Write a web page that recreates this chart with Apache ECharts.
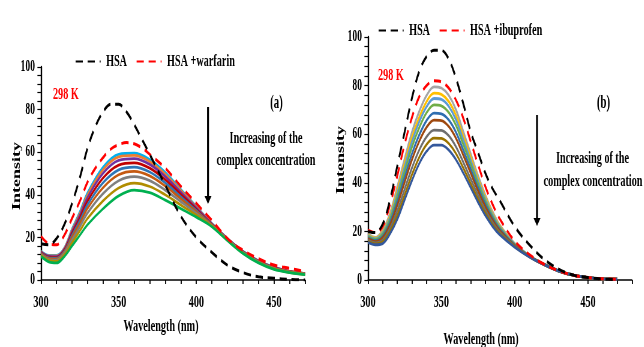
<!DOCTYPE html>
<html>
<head>
<meta charset="utf-8">
<script src="https://cdn.jsdelivr.net/npm/echarts@6/dist/echarts.min.js"></script>
<style>
  html, body { margin: 0; padding: 0; background: #fff; width: 644px; height: 347px; overflow: hidden; }
  /* the figure is drawn wide, then condensed horizontally */
  #chart { width: 1074px; height: 347px; transform: scaleX(0.6); transform-origin: 0 0; }
</style>
</head>
<body>
<div id="chart"></div>
<script>
// ---------- panel (a): HSA + warfarin ----------
const wlA = [300, 305, 310, 315, 320, 325, 330, 340, 350, 360, 370, 380, 390, 400, 410, 420, 430, 440, 450, 460, 470];
const wlAdash = [300, 305, 310, 315, 320, 325, 330, 335, 340, 345, 350, 355, 360, 365, 370, 380, 390, 400, 410, 420, 430, 440, 450, 460, 470];
const hsaA = [17, 16.5, 19.5, 26, 36, 48, 62, 72, 79, 82.5, 82.5, 79, 73, 66, 59, 44.5, 30, 20, 13, 7, 3.5, 1.5, 0.8, 0.3, 0];
const warfarinA = [20.5, 17, 16.5, 21, 29, 37, 46, 52.5, 57.5, 61.5, 63.5, 64.5, 64, 62, 59, 52.5, 44, 36, 28, 19.5, 14, 10, 7, 5.5, 4];
const complexA1 = [13.5, 11.5, 11.5, 15, 24, 32, 41, 53, 59, 59.5, 56.5, 50.5, 42.5, 34.5, 26.5, 19.5, 13.5, 9, 6, 4, 3];
const complexA2 = [13.4, 11.3, 11.3, 14.8, 23.5, 31.3, 40.1, 51.8, 57.8, 58.5, 55.6, 49.7, 42, 34.2, 26.4, 19.4, 13.4, 8.9, 5.9, 4, 3];
const complexA3 = [13.1, 11.1, 11, 14.4, 22.8, 30.4, 38.8, 50.2, 56.2, 57, 54.3, 48.6, 41.2, 33.8, 26.3, 19.4, 13.4, 8.9, 5.9, 3.9, 2.9];
const complexA4 = [12.9, 10.7, 10.6, 14, 21.9, 29.1, 37.1, 47.9, 53.9, 55, 52.5, 47.1, 40.2, 33.2, 26.1, 19.2, 13.2, 8.7, 5.7, 3.9, 2.9];
const complexA5 = [12.6, 10.4, 10.2, 13.5, 21, 27.9, 35.4, 45.7, 51.7, 53, 50.7, 45.6, 39.1, 32.6, 25.9, 19.1, 13.1, 8.6, 5.6, 3.8, 2.8];
const complexA6 = [12.3, 10, 9.8, 13, 20.1, 26.6, 33.7, 43.4, 49.4, 51, 48.9, 44.1, 38.1, 32, 25.8, 19, 13, 8.5, 5.5, 3.8, 2.8];
const complexA7 = [11.9, 9.6, 9.3, 12.5, 18.9, 25, 31.5, 40.6, 46.6, 48.5, 46.7, 42.2, 36.8, 31.3, 25.5, 18.9, 12.9, 8.4, 5.4, 3.7, 2.7];
const complexA8 = [11.5, 9.1, 8.7, 11.8, 17.5, 23.1, 28.9, 37.2, 43.2, 45.5, 43.9, 40, 35.2, 30.5, 25.3, 18.7, 12.7, 8.2, 5.2, 3.6, 2.6];
const complexA9 = [11, 8.5, 8, 11, 16, 21, 26, 33.5, 39.5, 42.2, 41, 37.5, 33.5, 29.5, 25, 18.5, 12.5, 8, 5, 3.5, 2.5];

// ---------- panel (b): HSA + ibuprofen ----------
const wlB = [300, 305, 310, 315, 320, 325, 330, 335, 340, 345, 350, 355, 360, 365, 370, 375, 380, 385, 390, 400, 410, 420, 430, 440, 450, 460, 470];
const hsaB = [20, 19.5, 23, 33, 47, 61, 75, 86, 92, 94.5, 94.5, 91, 83, 72.5, 61, 52.5, 44, 37.5, 32.5, 22, 14.5, 8.5, 4.5, 2, 1, 0.4, 0.2];
const ibuprofenB = [20.5, 19.5, 22, 31, 43, 56, 67, 75.5, 80, 82, 81.5, 79, 74, 66.5, 57, 47.5, 38.5, 31, 25, 16, 10.5, 6.5, 3.8, 2, 1, 0.5, 0.3];
const complexB1 = [19, 17.5, 20.5, 27.5, 38.5, 50, 61, 69.5, 76, 79.5, 79, 76, 70, 61, 52, 43, 35, 28, 22.5, 15, 10, 6.5, 3.8, 2, 1, 0.5, 0.3];
const complexB2 = [18.6, 17.2, 19.9, 26.6, 37, 48.1, 58.8, 67.1, 73.5, 76.9, 76.4, 73.5, 67.7, 59.1, 50.5, 41.8, 34.1, 27.3, 22.1, 14.8, 9.9, 6.5, 3.8, 2, 1, 0.5, 0.3];
const complexB3 = [18.3, 16.9, 19.4, 25.8, 35.8, 46.6, 57, 65.2, 71.4, 74.7, 74.3, 71.5, 65.9, 57.6, 49.2, 40.8, 33.3, 26.8, 21.7, 14.7, 9.9, 6.5, 3.8, 2, 1, 0.5, 0.3];
const complexB4 = [17.9, 16.6, 18.8, 24.9, 34.3, 44.7, 54.8, 62.8, 68.9, 72.1, 71.7, 69, 63.6, 55.7, 47.7, 39.6, 32.4, 26.1, 21.3, 14.5, 9.8, 6.4, 3.8, 2, 1, 0.5, 0.3];
const complexB5 = [17.4, 16.2, 18, 23.7, 32.4, 42.4, 52, 59.8, 65.7, 68.7, 68.4, 65.9, 60.8, 53.4, 45.7, 38, 31.2, 25.3, 20.7, 14.3, 9.8, 6.4, 3.8, 2, 1, 0.5, 0.3];
const complexB6 = [17, 15.8, 17.4, 22.7, 30.8, 40.3, 49.6, 57.2, 62.9, 65.8, 65.6, 63.2, 58.3, 51.3, 44, 36.7, 30.2, 24.6, 20.2, 14.1, 9.7, 6.4, 3.7, 2, 1, 0.5, 0.3];
const complexB7 = [16.4, 15.3, 16.4, 21.2, 28.5, 37.4, 46.2, 53.6, 59, 61.7, 61.6, 59.4, 54.8, 48.4, 41.6, 34.9, 28.7, 23.6, 19.5, 13.9, 9.6, 6.3, 3.7, 2, 1, 0.5, 0.3];
const complexB8 = [15.9, 14.9, 15.7, 20, 26.6, 35, 43.4, 50.6, 55.8, 58.4, 58.3, 56.2, 52, 46, 39.7, 33.3, 27.5, 22.7, 19, 13.7, 9.6, 6.3, 3.7, 2, 1, 0.5, 0.3];
const complexB9 = [15.5, 14.5, 15, 19, 25, 33, 41, 48, 53, 55.5, 55.5, 53.5, 49.5, 44, 38, 32, 26.5, 22, 18.5, 13.5, 9.5, 6.3, 3.7, 2, 1, 0.5, 0.3];

const yTicks = [0, 20, 40, 60, 80, 100];
const xTicks = [300, 350, 400, 450];

// ---------- drawing ----------
const SX = 0.6;                 // horizontal condensing of the figure
const X = v => v / SX;          // page x -> chart x
const SERIF = "'Liberation Serif','Times New Roman',serif";

const colorsA = ['#00B0F0', '#ED7D31', '#7030A0', '#C00000', '#2E75B6', '#C55A11', '#7F7F7F', '#B08D00', '#00B050'];
const colorsB = ['#A5A5A5', '#FFC000', '#5B9BD5', '#70AD47', '#2F6EB0', '#9E480E', '#6E6E6E', '#997300', '#34589C'];
const setA = [complexA1, complexA2, complexA3, complexA4, complexA5, complexA6, complexA7, complexA8, complexA9];
const setB = [complexB1, complexB2, complexB3, complexB4, complexB5, complexB6, complexB7, complexB8, complexB9];

const pairs = (wl, vals) => wl.map((w, i) => [w, vals[i]]);

function curve(name, wl, vals, color, axis, dashed) {
  return {
    name, type: 'line', xAxisIndex: axis, yAxisIndex: axis,
    data: pairs(wl, vals), smooth: 0.35, symbol: 'none', silent: true,
    z: dashed ? 4 : 2,
    lineStyle: dashed ? { color, width: 3, type: [12, 8] } : { color, width: 2.8 },
    itemStyle: { color }
  };
}

const series = [];
setA.forEach((v, i) => series.push(curve('warfarin complex ' + (i + 1), wlA, v, colorsA[i], 0, false)));
series.push(curve('HSA +warfarin', wlAdash, warfarinA, '#FF0000', 0, true));
series.push(curve('HSA', wlAdash, hsaA, '#000000', 0, true));
setB.forEach((v, i) => series.push(curve('ibuprofen complex ' + (i + 1), wlB, v, colorsB[i], 1, false)));
series.push(curve('HSA +ibuprofen', wlB, ibuprofenB, '#FF0000', 1, true));
series.push(curve('HSA', wlB, hsaB, '#000000', 1, true));

function xAxis(idx, max) {
  return {
    gridIndex: idx, type: 'value', min: 300, max: max, interval: 10,
    axisLine: { show: true, lineStyle: { color: '#000', width: 1.5 } },
    axisTick: { show: true, length: 4, lineStyle: { color: '#000', width: 1.8 } },
    axisLabel: {
      formatter: v => (xTicks.indexOf(v) >= 0 ? String(v) : ''),
      color: '#000', fontFamily: SERIF, fontWeight: 'bold', fontSize: 17, margin: 14
    },
    splitLine: { show: false }
  };
}
function yAxis(idx) {
  return {
    gridIndex: idx, type: 'value', min: 0, max: 100, interval: 4,
    axisLine: { show: true, lineStyle: { color: '#000', width: 2.4 } },
    axisTick: { show: true, length: 6, lineStyle: { color: '#000', width: 1.2 } },
    axisLabel: {
      formatter: v => (yTicks.indexOf(v) >= 0 ? String(v) : ''),
      color: '#000', fontFamily: SERIF, fontWeight: 'bold', fontSize: 16, margin: 10
    },
    splitLine: { show: false }
  };
}

function label(text, x, y, opts) {
  return Object.assign({
    type: 'text', x: X(x), y: y, silent: true,
    style: Object.assign({
      text, fill: '#000', fontFamily: SERIF, fontWeight: 'bold', fontSize: 17,
      textAlign: 'center', textVerticalAlign: 'middle'
    }, opts && opts.style)
  }, opts && opts.el);
}
function arrow(x, y1, y2) {
  return [
    { type: 'line', silent: true, shape: { x1: X(x), y1: y1, x2: X(x), y2: y2 - 6 }, style: { stroke: '#000', lineWidth: 3.2 } },
    { type: 'polygon', silent: true, shape: { points: [[X(x - 3.5), y2 - 8], [X(x + 3.5), y2 - 8], [X(x), y2]] }, style: { fill: '#000' } }
  ];
}

const legendText = { color: '#000', fontFamily: SERIF, fontWeight: 'bold', fontSize: 17, padding: [0, 0, 0, 4] };
const legendBase = {
  itemWidth: X(25), itemHeight: 14, itemGap: X(9), textStyle: legendText, selectedMode: false,
  itemStyle: { opacity: 0 },
  lineStyle: { opacity: 1 }
};

const option = {
  animation: false,
  backgroundColor: '#fff',
  grid: [
    { left: X(41), top: 67, width: X(264), height: 213 },
    { left: X(368), top: 37, width: X(264), height: 243 }
  ],
  xAxis: [xAxis(0, 470), xAxis(1, 480)],
  yAxis: [yAxis(0), yAxis(1)],
  legend: [
    Object.assign({ data: ['HSA', 'HSA +warfarin'], left: X(72), top: 48 }, legendBase),
    Object.assign({ data: ['HSA', 'HSA +ibuprofen'], left: X(375), top: 17 }, legendBase)
  ],
  series: series,
  graphic: [
    label('298 K', 53, 95, { style: { fill: '#FF0000', textAlign: 'left' } }),
    label('298 K', 378, 76, { style: { fill: '#FF0000', textAlign: 'left' } }),
    label('(a)', 276.5, 103, { style: { fontSize: 18 } }),
    label('(b)', 603.5, 103, { style: { fontSize: 18 } }),
    label('Increasing of the', 266, 139),
    label('complex concentration', 266, 161),
    label('Increasing of the', 592.5, 159),
    label('complex concentration', 593, 182),
    label('Intensity', 17, 176, { el: { rotation: Math.PI / 2 }, style: { fontSize: 18 } }),
    label('Intensity', 341, 160, { el: { rotation: Math.PI / 2 }, style: { fontSize: 18 } }),
    label('Wavelength (nm)', 161, 327),
    label('Wavelength (nm)', 481, 340),
    ...arrow(208, 107, 204),
    ...arrow(537, 115, 226)
  ]
};

const chart = echarts.init(document.getElementById('chart'), null, { renderer: 'canvas' });
chart.setOption(option);
</script>
</body>
</html>
